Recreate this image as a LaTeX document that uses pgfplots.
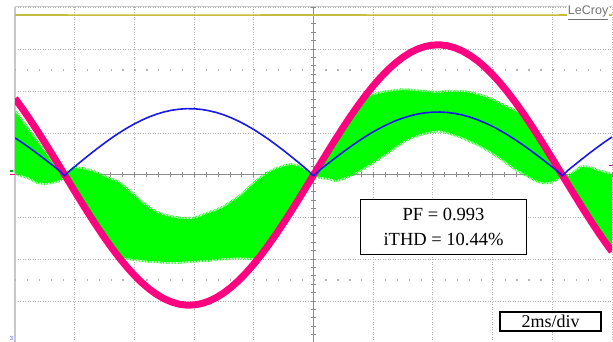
\documentclass[border=0pt]{standalone}
\usepackage{pgfplots}
\pgfplotsset{compat=1.18}
\usepackage{fontspec}
\setmainfont{Liberation Serif}
\newfontfamily\lsans{Liberation Sans}
\definecolor{wpink}{RGB}{255,0,128}
\definecolor{wgreen}{RGB}{0,255,0}
\definecolor{wblue}{RGB}{25,25,230}
\definecolor{wyellow}{RGB}{200,188,60}
\definecolor{gridgray}{RGB}{180,180,180}
\definecolor{axgray}{RGB}{140,140,140}
\definecolor{bordergray}{RGB}{200,200,200}
\begin{document}
\begin{tikzpicture}
\path[use as bounding box] (0,0) rectangle (613pt,342pt);
\begin{axis}[
  at={(15pt,-1pt)}, anchor=south west,
  scale only axis, width=597pt, height=336pt,
  xmin=-10, xmax=10, ymin=-4, ymax=4,
  enlargelimits=false,
  axis lines=middle,
  axis line style={-, draw=axgray, line width=1pt},
  xtick={-10,-8,...,10}, ytick={-4,-3,...,4},
  minor tick num=4,
  xticklabels={}, yticklabels={},
  tick align=center,
  major tick length=5pt, minor tick length=5pt,
  tick style={draw=axgray, line width=0.8pt},
  grid=major,
  major grid style={draw=gridgray, line width=0.9pt, dash pattern=on 1pt off 1.5pt},
  clip mode=individual,
]
% screen border and half-division dot rows
\draw[bordergray, line width=2pt] (axis cs:-10,-4) -- (axis cs:-10,4);
\draw[bordergray, line width=1pt] (axis cs:-10,4) -- (axis cs:10,4);
\draw[gridgray, line width=1.2pt, dash pattern=on 1.2pt off 10.74pt] (axis cs:-10,2.5) -- (axis cs:10,2.5);
\draw[gridgray, line width=1.2pt, dash pattern=on 1.2pt off 10.74pt] (axis cs:-10,-2.5) -- (axis cs:10,-2.5);

% channel 1 (flat yellow trace)
\addplot[wyellow, line width=1.6pt] coordinates {(-10,3.81) (-5,3.805) (0,3.81) (5,3.805) (10,3.81)};

% current with switching ripple (green band: upper edge then lower edge)
\addplot[fill=wgreen, draw=wgreen, line width=4pt, dash pattern=on 0.6pt off 0.9pt] coordinates {
(-10,1.50)(-9.75,1.26)(-9.5,1.02)(-9.25,0.78)(-9,0.54)(-8.75,0.30)(-8.5,0.05)(-8.333,0)(-8.25,0.05)(-8,0.167)(-7.75,0.143)(-7.5,0.095)(-7.25,0.036)(-7,-0.048)(-6.75,-0.119)(-6.5,-0.19)(-6.25,-0.345)(-6,-0.50)(-5.75,-0.66)(-5.5,-0.80)(-5.25,-0.90)(-5,-0.97)(-4.75,-1.01)(-4.5,-1.04)(-4.25,-1.05)(-4,-1.04)(-3.75,-0.98)(-3.5,-0.91)(-3.25,-0.85)(-3,-0.77)(-2.75,-0.65)(-2.5,-0.54)(-2.25,-0.38)(-2,-0.21)(-1.75,-0.07)(-1.5,0.05)(-1.25,0.14)(-1,0.20)(-0.75,0.24)(-0.5,0.20)(-0.25,0.10)(0,0)(0.25,0.292)(0.5,0.581)(0.75,0.865)(1,1.141)(1.25,1.407)(1.5,1.661)(1.75,1.86)(2,1.90)(2.25,1.94)(2.5,1.98)(2.75,2.00)(3,2.02)(3.25,2.01)(3.5,1.99)(3.75,1.98)(4,1.96)(4.25,1.96)(4.5,1.98)(4.75,1.98)(5,1.98)(5.25,1.95)(5.5,1.91)(5.75,1.85)(6,1.78)(6.25,1.69)(6.5,1.60)(6.75,1.52)(7,1.45)(7.25,1.19)(7.5,0.92)(7.75,0.64)(8,0.36)(8.25,0.08)(8.333,0)(8.5,-0.05)(8.75,0.07)(9,0.19)(9.25,0.17)(9.5,0.10)(9.75,0.05)(10,0.0)
(10,-1.80)(9.75,-1.578)(9.5,-1.32)(9.25,-1.05)(9,-0.771)(8.75,-0.485)(8.5,-0.195)(8.333,0)(8.25,-0.05)(8,-0.15)(7.75,-0.18)(7.5,-0.14)(7.25,-0.04)(7,0.06)(6.75,0.16)(6.5,0.29)(6.25,0.42)(6,0.54)(5.75,0.64)(5.5,0.74)(5.25,0.82)(5,0.90)(4.75,0.96)(4.5,1.02)(4.25,1.06)(4,1.05)(3.75,1.01)(3.5,0.96)(3.25,0.89)(3,0.80)(2.75,0.68)(2.5,0.55)(2.25,0.43)(2,0.31)(1.75,0.20)(1.5,0.10)(1.25,0.0)(1,-0.07)(0.75,-0.12)(0.5,-0.07)(0.25,-0.05)(0,0)(-0.25,-0.292)(-0.5,-0.581)(-0.75,-0.865)(-1,-1.141)(-1.25,-1.407)(-1.5,-1.661)(-1.75,-1.900)(-2,-1.98)(-2.25,-1.97)(-2.5,-1.97)(-2.75,-1.97)(-3,-1.98)(-3.25,-2.00)(-3.5,-2.02)(-3.75,-2.03)(-4,-2.04)(-4.25,-2.05)(-4.5,-2.07)(-4.75,-2.07)(-5,-2.07)(-5.25,-2.05)(-5.5,-2.05)(-5.75,-2.02)(-6,-2.00)(-6.25,-1.98)(-6.5,-1.976)(-6.75,-1.743)(-7,-1.494)(-7.25,-1.231)(-7.5,-0.958)(-7.75,-0.676)(-8,-0.388)(-8.25,-0.097)(-8.333,0)(-8.5,-0.12)(-8.75,-0.17)(-9,-0.19)(-9.25,-0.17)(-9.5,-0.07)(-9.75,-0.01)(-10,0.05)
};

% grid voltage (pink)
\addplot[wpink, line width=7pt, line join=round] coordinates {
(-10,1.822)(-9.75,1.578)(-9.5,1.320)(-9.25,1.050)(-9,0.771)(-8.75,0.485)(-8.5,0.195)(-8.25,-0.097)(-8,-0.388)(-7.75,-0.676)(-7.5,-0.958)(-7.25,-1.231)(-7,-1.494)(-6.75,-1.743)(-6.5,-1.976)(-6.25,-2.192)(-6,-2.389)(-5.75,-2.564)(-5.5,-2.717)(-5.25,-2.845)(-5,-2.948)(-4.75,-3.025)(-4.5,-3.076)(-4.25,-3.098)(-4,-3.094)(-3.75,-3.062)(-3.5,-3.003)(-3.25,-2.917)(-3,-2.805)(-2.75,-2.668)(-2.5,-2.508)(-2.25,-2.325)(-2,-2.122)(-1.75,-1.900)(-1.5,-1.661)(-1.25,-1.407)(-1,-1.141)(-0.75,-0.865)(-0.5,-0.581)(-0.25,-0.292)(0,0)(0.25,0.292)(0.5,0.581)(0.75,0.865)(1,1.141)(1.25,1.407)(1.5,1.661)(1.75,1.900)(2,2.122)(2.25,2.325)(2.5,2.508)(2.75,2.668)(3,2.805)(3.25,2.917)(3.5,3.003)(3.75,3.062)(4,3.094)(4.25,3.098)(4.5,3.076)(4.75,3.025)(5,2.948)(5.25,2.845)(5.5,2.717)(5.75,2.564)(6,2.389)(6.25,2.192)(6.5,1.976)(6.75,1.743)(7,1.494)(7.25,1.231)(7.5,0.958)(7.75,0.676)(8,0.388)(8.25,0.097)(8.5,-0.195)(8.75,-0.485)(9,-0.771)(9.25,-1.050)(9.5,-1.320)(9.75,-1.578)(10,-1.822)
};

% rectified reference (blue)
\addplot[wblue, line width=1.6pt, line join=round] coordinates {
(-10,0.882)(-9.75,0.764)(-9.5,0.639)(-9.25,0.508)(-9,0.373)(-8.75,0.235)(-8.5,0.094)(-8.333,-0.02)(-8.25,0.050)(-8,0.198)(-7.75,0.345)(-7.5,0.488)(-7.25,0.627)(-7,0.761)(-6.75,0.888)(-6.5,1.007)(-6.25,1.117)(-6,1.217)(-5.75,1.307)(-5.5,1.385)(-5.25,1.450)(-5,1.503)(-4.75,1.542)(-4.5,1.567)(-4.25,1.579)(-4,1.577)(-3.75,1.561)(-3.5,1.530)(-3.25,1.487)(-3,1.430)(-2.75,1.360)(-2.5,1.278)(-2.25,1.185)(-2,1.082)(-1.75,0.968)(-1.5,0.847)(-1.25,0.717)(-1,0.582)(-0.75,0.441)(-0.5,0.296)(-0.25,0.149)(0,-0.02)(0.25,0.141)(0.5,0.281)(0.75,0.419)(1,0.552)(1.25,0.681)(1.5,0.804)(1.75,0.919)(2,1.027)(2.25,1.125)(2.5,1.214)(2.75,1.291)(3,1.357)(3.25,1.411)(3.5,1.453)(3.75,1.482)(4,1.497)(4.25,1.499)(4.5,1.488)(4.75,1.464)(5,1.427)(5.25,1.377)(5.5,1.314)(5.75,1.241)(6,1.156)(6.25,1.061)(6.5,0.956)(6.75,0.843)(7,0.723)(7.25,0.596)(7.5,0.464)(7.75,0.327)(8,0.188)(8.25,0.047)(8.333,-0.02)(8.5,0.097)(8.75,0.241)(9,0.383)(9.25,0.522)(9.5,0.656)(9.75,0.784)(10,0.905)
};

% annotations
\node[fill=white, inner sep=1pt, text=black!55, font={\lsans\fontsize{12.5}{13}\selectfont}] at (axis cs:9.2,3.86) {\underline{LeCroy}};
\node[draw=black, line width=1pt, fill=white, minimum width=166pt, minimum height=55pt, inner sep=0pt, align=center, font={\fontsize{18.5}{25}\selectfont}] at (axis cs:4.355,-1.238) {PF = 0.993\\iTHD = 10.44\%};
\node[draw=black, line width=2pt, fill=white, minimum width=101pt, minimum height=19pt, inner sep=0pt, font={\fontsize{18}{18}\selectfont}] at (axis cs:7.94,-3.488) {2ms/div};
\end{axis}
% channel ground markers at the screen edges
\draw[wpink, line width=1.5pt] (10pt,167.5pt) -- (15pt,167.5pt);
\draw[wgreen!70!black, line width=1.5pt] (10pt,171pt) -- (13pt,171pt);
\node[text=wblue!70, inner sep=0pt, font={\lsans\fontsize{6}{6}\selectfont}] at (11.5pt,3.5pt) {3};
\draw[wpink, line width=1pt] (609pt,176pt) -- (613pt,176pt);
\end{tikzpicture}
\end{document}
